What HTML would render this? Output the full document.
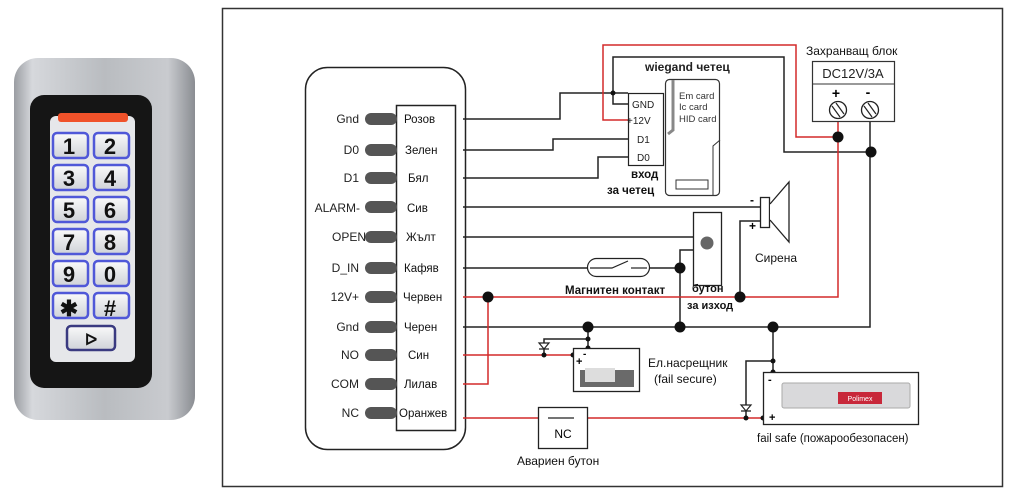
<!DOCTYPE html>
<html><head><meta charset="utf-8"><style>
body{margin:0;background:#fff;}
svg text{font-family:"Liberation Sans",sans-serif;}
</style></head><body>
<svg width="1010" height="498" xmlns="http://www.w3.org/2000/svg">
<defs>
<linearGradient id="met" x1="0" x2="1" y1="0" y2="0">
<stop offset="0" stop-color="#9a9da2"/><stop offset="0.1" stop-color="#d6d8dc"/><stop offset="0.5" stop-color="#b9bcc0"/><stop offset="0.85" stop-color="#c9cbcf"/><stop offset="1" stop-color="#8a8d92"/></linearGradient>
<linearGradient id="key" x1="0" x2="0" y1="0" y2="1"><stop offset="0" stop-color="#fafafa"/><stop offset="1" stop-color="#cfd2d8"/></linearGradient>
</defs>
<!-- keypad -->
<rect x="14" y="58" width="181" height="362" rx="24" fill="url(#met)"/>
<rect x="30" y="95" width="122" height="293" rx="14" fill="#151515"/>
<rect x="50" y="116" width="85" height="246" rx="6" fill="#e6e7ea"/>
<rect x="58" y="113" width="70" height="9" rx="3" fill="#f0522a"/>
<g font-size="22" font-weight="bold" text-anchor="middle" fill="#111">
<g stroke="#5058d8" stroke-width="2.5" fill="url(#key)">
<rect x="53" y="133" width="35" height="25" rx="4"/><rect x="94" y="133" width="35" height="25" rx="4"/>
<rect x="53" y="165" width="35" height="25" rx="4"/><rect x="94" y="165" width="35" height="25" rx="4"/>
<rect x="53" y="197" width="35" height="25" rx="4"/><rect x="94" y="197" width="35" height="25" rx="4"/>
<rect x="53" y="229" width="35" height="25" rx="4"/><rect x="94" y="229" width="35" height="25" rx="4"/>
<rect x="53" y="261" width="35" height="25" rx="4"/><rect x="94" y="261" width="35" height="25" rx="4"/>
<rect x="53" y="293" width="35" height="25" rx="4"/><rect x="94" y="293" width="35" height="25" rx="4"/>
<rect x="67" y="326" width="48" height="24" rx="4" stroke="#3a3a80"/>
</g>
<text x="69" y="154">1</text><text x="110" y="154">2</text>
<text x="69" y="186">3</text><text x="110" y="186">4</text>
<text x="69" y="218">5</text><text x="110" y="218">6</text>
<text x="69" y="250">7</text><text x="110" y="250">8</text>
<text x="69" y="282">9</text><text x="110" y="282">0</text>
<text x="69" y="316">✱</text><text x="110" y="316">#</text>
<text x="91" y="345" font-size="16">ᐅ</text>
</g>
<!-- frame -->
<rect x="222.5" y="8.5" width="780" height="478" fill="none" stroke="#333" stroke-width="1.5"/>
<!-- connector panel -->
<rect x="305.5" y="67.5" width="160" height="382" rx="22" fill="none" stroke="#222" stroke-width="1.5"/>
<rect x="396.5" y="105.5" width="59" height="325" fill="#fff" stroke="#222" stroke-width="1.5"/>
<g fill="#555">
<rect x="365" y="113" width="32" height="12" rx="6"/><rect x="365" y="144" width="32" height="12" rx="6"/>
<rect x="365" y="172" width="32" height="12" rx="6"/><rect x="365" y="201" width="32" height="12" rx="6"/>
<rect x="365" y="231" width="32" height="12" rx="6"/><rect x="365" y="262" width="32" height="12" rx="6"/>
<rect x="365" y="291" width="32" height="12" rx="6"/><rect x="365" y="321" width="32" height="12" rx="6"/>
<rect x="365" y="349" width="32" height="12" rx="6"/><rect x="365" y="378" width="32" height="12" rx="6"/>
<rect x="365" y="407" width="32" height="12" rx="6"/>
</g>
<g font-size="12" text-anchor="end" fill="#222">
<text x="359" y="123">Gnd</text><text x="359" y="154">D0</text><text x="359" y="182">D1</text>
<text x="360" y="212">ALARM-</text><text x="366" y="241">OPEN</text><text x="359" y="272">D_IN</text>
<text x="359" y="301">12V+</text><text x="359" y="331">Gnd</text><text x="359" y="359">NO</text>
<text x="359" y="388">COM</text><text x="359" y="417">NC</text>
</g>
<g font-size="11.5" fill="#111">
<text x="404" y="123">Розов</text><text x="405" y="154">Зелен</text><text x="408" y="182">Бял</text>
<text x="407" y="212">Сив</text><text x="406" y="241">Жълт</text><text x="404" y="272">Кафяв</text>
<text x="403" y="301">Червен</text><text x="404" y="331">Черен</text><text x="408" y="359">Син</text>
<text x="404" y="388">Лилав</text><text x="399" y="417">Оранжев</text>
</g>
<!-- black wires -->
<g fill="none" stroke="#222" stroke-width="1.5">
<polyline points="463,119 560,119 560,93 628,93"/>
<polyline points="613,93 613,104 628,104"/>
<polyline points="613,93 613,57 784,57 784,152 871,152"/>
<polyline points="463,150 553,150 553,139 628,139"/>
<polyline points="463,178 598,178 598,157 628,157"/>
<line x1="463" y1="207" x2="760" y2="207"/>
<polyline points="740,297 740,221 760,221"/>
<line x1="463" y1="237" x2="693" y2="237"/>
<line x1="463" y1="268" x2="587" y2="268"/>
<line x1="650" y1="268" x2="680" y2="268"/>
<polyline points="680,268 680,250 693,250"/>
<line x1="680" y1="268" x2="680" y2="327"/>
<polyline points="463,327 870,327 870,121"/>
<polyline points="588,327 588,348"/>
<polyline points="588,339 544,339 544,355"/>
<polyline points="773,327 773,372"/>
<polyline points="773,361 746,361 746,418"/>
</g>
<!-- red wires -->
<g fill="none" stroke="#d42a2a" stroke-width="1.5">
<polyline points="628,120 603,120 603,45 796,45 796,137 838,137"/>
<polyline points="838,121 838,297 463,297"/>
<polyline points="463,355 573,355"/>
<polyline points="463,384 488,384 488,297"/>
<polyline points="463,418 538,418"/><polyline points="587,418 763,418"/>
</g>
<g fill="#111">
<circle cx="613" cy="93" r="2.5"/><circle cx="838" cy="137" r="5.5"/><circle cx="871" cy="152" r="5.5"/>
<circle cx="680" cy="268" r="5.5"/><circle cx="740" cy="297" r="5.5"/><circle cx="488" cy="297" r="5.5"/>
<circle cx="588" cy="327" r="5.5"/><circle cx="680" cy="327" r="5.5"/><circle cx="773" cy="327" r="5.5"/>
<circle cx="588" cy="339" r="2.5"/><circle cx="544" cy="355" r="2.5"/><circle cx="573" cy="355" r="2.5"/><circle cx="588" cy="348" r="2.5"/>
<circle cx="773" cy="361" r="2.5"/><circle cx="773" cy="372" r="2.5"/><circle cx="746" cy="418" r="2.5"/><circle cx="763" cy="418" r="2.5"/>
<circle cx="548" cy="418" r="2.5"/><circle cx="574" cy="418" r="2.5"/>
</g>
<!-- diodes -->
<path d="M539 343 L549 343 L544 349 Z M539 349 L549 349" fill="#fff" stroke="#222" stroke-width="1.2"/>
<path d="M741 405 L751 405 L746 411 Z M741 411 L751 411" fill="#fff" stroke="#222" stroke-width="1.2"/>
<!-- reader -->
<rect x="628.5" y="93.5" width="35" height="72" fill="#fff" stroke="#222" stroke-width="1.2"/>
<g font-size="10" fill="#222"><text x="632" y="108">GND</text><text x="627" y="124">+12V</text><text x="637" y="143">D1</text><text x="637" y="161">D0</text></g>
<text x="645" y="71" font-size="12" font-weight="bold" fill="#222">wiegand четец</text>
<rect x="665.5" y="79.5" width="54" height="116" rx="4" fill="#fff" stroke="#333" stroke-width="1.2"/>
<polyline points="673,80 673,130 668,134" fill="none" stroke="#888" stroke-width="3"/>
<polyline points="720,140 713,146 713,195" fill="none" stroke="#333" stroke-width="1"/>
<rect x="676" y="180" width="32" height="9" fill="none" stroke="#333"/>
<g font-size="9.5" fill="#333"><text x="679" y="99">Em card</text><text x="679" y="110">Ic card</text><text x="679" y="122">HID card</text></g>
<text x="631" y="178" font-size="11.5" font-weight="bold" fill="#111">вход</text>
<text x="607" y="194" font-size="11.5" font-weight="bold" fill="#111">за четец</text>
<!-- power -->
<text x="806" y="55" font-size="12" fill="#111">Захранващ блок</text>
<rect x="812.5" y="61.5" width="82" height="60" fill="#fff" stroke="#333" stroke-width="1.2"/>
<line x1="812" y1="84" x2="895" y2="84" stroke="#333"/>
<text x="853" y="78" font-size="13" text-anchor="middle" fill="#222">DC12V/3A</text>
<text x="836" y="98" font-size="14" font-weight="bold" text-anchor="middle">+</text>
<text x="868" y="97" font-size="14" font-weight="bold" text-anchor="middle">-</text>
<g fill="#fff" stroke="#222" stroke-width="1.3"><circle cx="838" cy="110" r="8.5"/><circle cx="870" cy="110" r="8.5"/></g>
<g stroke="#222" stroke-width="1.2"><line x1="832" y1="106" x2="840" y2="117"/><line x1="836" y1="103" x2="844" y2="114"/><line x1="864" y1="106" x2="872" y2="117"/><line x1="868" y1="103" x2="876" y2="114"/></g>
<!-- siren -->
<rect x="760.5" y="197.5" width="9" height="30" fill="#fff" stroke="#222" stroke-width="1.3"/>
<path d="M770 204 L789 182 L789 242 L770 220" fill="#fff" stroke="#222" stroke-width="1.3"/>
<text x="750" y="204" font-size="12" font-weight="bold">-</text><text x="749" y="230" font-size="12" font-weight="bold">+</text>
<text x="755" y="262" font-size="12" fill="#111">Сирена</text>
<!-- exit button -->
<rect x="693.5" y="212.5" width="28" height="73" fill="#fff" stroke="#222" stroke-width="1.3"/>
<circle cx="707" cy="243" r="6.5" fill="#666"/>
<text x="692" y="292" font-size="11" font-weight="bold" fill="#111">бутон</text>
<text x="687" y="309" font-size="11" font-weight="bold" fill="#111">за изход</text>
<!-- magnetic -->
<rect x="587.5" y="258.5" width="62" height="18" rx="9" fill="#fff" stroke="#222" stroke-width="1.2"/>
<polyline points="590,268 612,268 628,261" fill="none" stroke="#222" stroke-width="1.2"/><line x1="631" y1="268" x2="647" y2="268" stroke="#222" stroke-width="1.2"/>
<text x="565" y="294" font-size="11.5" font-weight="bold" fill="#111">Магнитен контакт</text>
<!-- fail secure -->
<rect x="573.5" y="348.5" width="66" height="43" fill="#fff" stroke="#222" stroke-width="1.3"/>
<rect x="580" y="370" width="54" height="17" fill="#6a6a6a"/><rect x="585" y="368" width="30" height="14" fill="#ddd"/>
<text x="583" y="357" font-size="10" font-weight="bold">-</text><text x="576" y="365" font-size="11" font-weight="bold">+</text>
<text x="648" y="367" font-size="12" fill="#111">Ел.насрещник</text>
<text x="654" y="383" font-size="12" fill="#111">(fail secure)</text>
<!-- NC -->
<rect x="538.5" y="407.5" width="49" height="41" fill="#fff" stroke="#222" stroke-width="1.3"/>
<line x1="548" y1="418" x2="574" y2="418" stroke="#222" stroke-width="1.3"/>
<text x="563" y="438" font-size="12" text-anchor="middle">NC</text>
<text x="517" y="465" font-size="12" fill="#111">Авариен бутон</text>
<!-- fail safe -->
<rect x="763.5" y="372.5" width="155" height="52" fill="#fff" stroke="#222" stroke-width="1.3"/>
<rect x="782" y="383" width="128" height="25" rx="2" fill="#d9d9db" stroke="#aaa"/>
<rect x="838" y="392" width="44" height="12" fill="#c8283a"/>
<text x="860" y="401" font-size="7" fill="#fff" text-anchor="middle">Polimex</text>
<text x="768" y="383" font-size="11" font-weight="bold">-</text><text x="769" y="421" font-size="11" font-weight="bold">+</text>
<text x="757" y="442" font-size="11.5" fill="#111">fail safe (пожарообезопасен)</text>
</svg>
</body></html>
